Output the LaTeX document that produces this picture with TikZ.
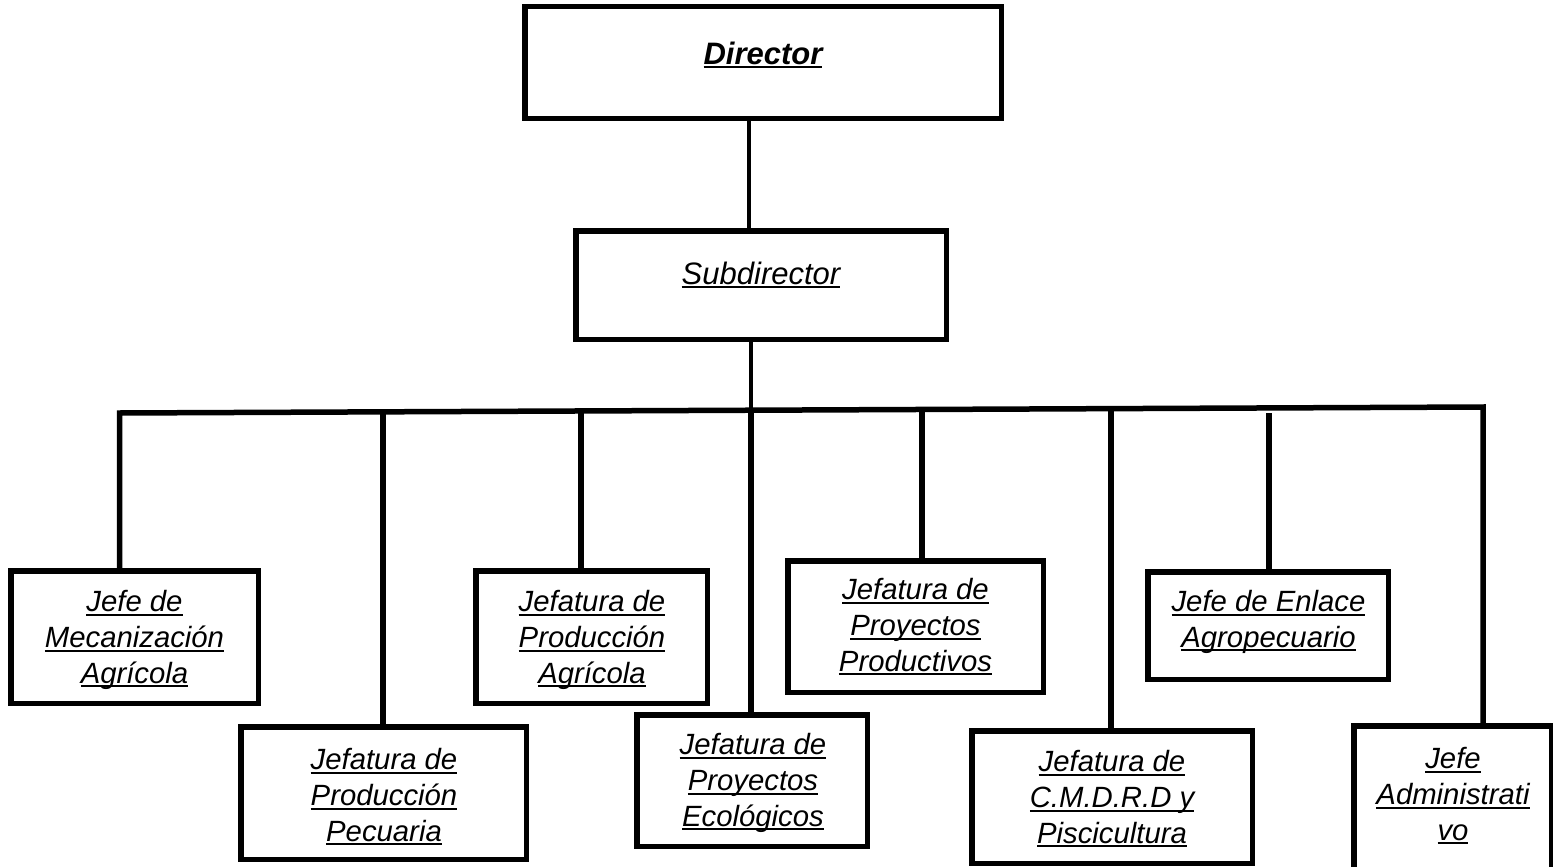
\documentclass[tikz,border=0pt]{standalone}
\usepackage{fontspec}
\setmainfont{Liberation Sans}
\usetikzlibrary{backgrounds}
\newcommand\ULn[1]{\leavevmode\setbox0=\hbox{#1}\rlap{\rule[-4.4pt]{\wd0}{2.2pt}}\box0}
\begin{document}
\begin{tikzpicture}[x=1pt,y=-1pt,
  box/.style={draw=black, line width=5.5pt, fill=white, inner sep=0pt},
  conn/.style={draw=black, line width=5.5pt},
  topconn/.style={draw=black, line width=4pt},
  txt/.style={inner sep=0pt, align=center, anchor=base, text=black,
    font=\fontsize{29.3}{35.7}\selectfont\itshape},
  toptxt/.style={inner sep=0pt, align=center, anchor=base, text=black,
    font=\fontsize{31}{37}\selectfont\itshape}]
\useasboundingbox (0,0) rectangle (1553,867);

% bar coordinates
\coordinate (c1) at (119.5,413);
\coordinate (c2) at (383,411.8);
\coordinate (c3) at (581,411);
\coordinate (c4) at (751,410.2);
\coordinate (c5) at (922,409.5);
\coordinate (c6) at (1111,408.6);
\coordinate (c7) at (1269,413);
\coordinate (c8) at (1483,407);
\coordinate (k1) at (749,0);

% boxes
\node[box, minimum width=476.5pt, minimum height=111.5pt] (dir) at (763,62.5) {};
\node[box, minimum width=370.5pt, minimum height=108.5pt] (sub) at (761,285) {};
\node[box, minimum width=247.5pt, minimum height=132.5pt] (b1) at (134.5,637) {};
\node[box, minimum width=285.5pt, minimum height=132.5pt] (b2) at (383.5,793) {};
\node[box, minimum width=231.5pt, minimum height=132.5pt] (b3) at (591.5,637) {};
\node[box, minimum width=230.5pt, minimum height=131.5pt] (b4) at (752,780.5) {};
\node[box, minimum width=255.5pt, minimum height=131.5pt] (b5) at (915.5,626.5) {};
\node[box, minimum width=280.5pt, minimum height=132.5pt] (b6) at (1112,797) {};
\node[box, minimum width=240.5pt, minimum height=107.5pt] (b7) at (1268,625.5) {};
\node[box, minimum width=197.5pt, minimum height=143.5pt] (b8) at (1452.5,797.5) {};

% connectors (behind boxes)
\begin{pgfonlayer}{background}
\fill[white] (0,0) rectangle (1553,867);
\draw[topconn] (k1 |- dir.south) -- (k1 |- sub.north);
\draw[topconn] (c4 |- sub.south) -- (c4);
\draw[conn] (c1 |- b1.north) -- (c1) -- (c8) -- (c8 |- b8.north);
\draw[conn] (c2) -- (c2 |- b2.north);
\draw[conn] (c3) -- (c3 |- b3.north);
\draw[conn] (c4) -- (c4 |- b4.north);
\draw[conn] (c5) -- (c5 |- b5.north);
\draw[conn] (c6) -- (c6 |- b6.north);
\draw[conn] (c7) -- (c7 |- b7.north);
\end{pgfonlayer}

% texts (anchor = baseline of last line)
\node[toptxt, font=\fontsize{31}{37}\selectfont\bfseries\itshape] (tdir) at (763,64) {\ULn{Director}};
\node[toptxt] (tsub) at (761,284) {\ULn{Subdirector}};
\node[txt] (t1) at (134.5,683) {\ULn{Jefe de}\\\ULn{Mecanización}\\\ULn{Agrícola}};
\node[txt] (t2) at (384,841) {\ULn{Jefatura de}\\\ULn{Producción}\\\ULn{Pecuaria}};
\node[txt] (t3) at (592,683) {\ULn{Jefatura de}\\\ULn{Producción}\\\ULn{Agrícola}};
\node[txt] (t4) at (753,826) {\ULn{Jefatura de}\\\ULn{Proyectos}\\\ULn{Ecológicos}};
\node[txt] (t5) at (915.5,671) {\ULn{Jefatura de}\\\ULn{Proyectos}\\\ULn{Productivos}};
\node[txt] (t6) at (1112,843) {\ULn{Jefatura de}\\\ULn{C.M.D.R.D y}\\\ULn{Piscicultura}};
\node[txt] (t7) at (1268.5,647) {\ULn{Jefe de Enlace}\\\ULn{Agropecuario}};
\node[txt] (t8) at (1453,840) {\ULn{Jefe}\\\ULn{Administrati}\\\ULn{vo}};
\end{tikzpicture}
\end{document}
